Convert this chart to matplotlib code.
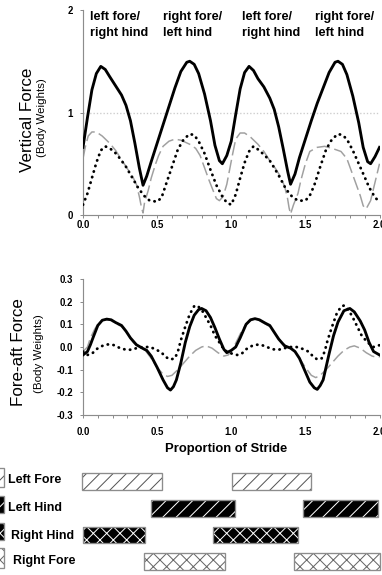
import matplotlib
matplotlib.use("Agg")
import matplotlib.pyplot as plt
from matplotlib.patches import Rectangle

# ---------------------------------------------------------------
# Vertical force (body weights) over two strides
# ---------------------------------------------------------------
vert_total_x = [0.00, 0.03, 0.06, 0.09, 0.12, 0.15, 0.18, 0.22, 0.26, 0.29,
                0.32, 0.35, 0.38, 0.405, 0.43, 0.46, 0.50, 0.54, 0.58, 0.62,
                0.66, 0.70, 0.72, 0.75, 0.78, 0.82, 0.86, 0.89, 0.92, 0.94,
                0.97, 1.00, 1.03, 1.06, 1.09, 1.12, 1.15, 1.18, 1.22, 1.26,
                1.29, 1.32, 1.35, 1.38, 1.40, 1.43, 1.46, 1.50, 1.54, 1.58,
                1.62, 1.66, 1.70, 1.72, 1.75, 1.78, 1.82, 1.86, 1.89, 1.92,
                1.94, 1.97, 2.00]
vert_total_y = [0.66, 0.95, 1.22, 1.38, 1.45, 1.42, 1.35, 1.26, 1.17, 1.07,
                0.92, 0.70, 0.46, 0.29, 0.38, 0.52, 0.70, 0.88, 1.06, 1.24,
                1.40, 1.49, 1.50, 1.47, 1.38, 1.18, 0.92, 0.68, 0.53, 0.50,
                0.58, 0.72, 0.98, 1.23, 1.39, 1.45, 1.41, 1.33, 1.25, 1.14,
                1.03, 0.86, 0.65, 0.43, 0.30, 0.40, 0.56, 0.74, 0.92, 1.09,
                1.24, 1.39, 1.49, 1.50, 1.47, 1.37, 1.16, 0.90, 0.66, 0.52,
                0.50, 0.57, 0.66]

vert_dot_x = [0.00, 0.03, 0.06, 0.09, 0.12, 0.15, 0.18, 0.21, 0.25, 0.29,
              0.33, 0.37, 0.41, 0.45, 0.50, 0.53, 0.56, 0.60, 0.64, 0.68,
              0.72, 0.75, 0.78, 0.82, 0.86, 0.90, 0.94, 0.97, 1.00, 1.03,
              1.06, 1.09, 1.12, 1.15, 1.18, 1.22, 1.26, 1.29, 1.33, 1.37,
              1.41, 1.45, 1.50, 1.53, 1.56, 1.60, 1.64, 1.68, 1.72, 1.75,
              1.78, 1.82, 1.86, 1.90, 1.93, 1.97, 2.00]
vert_dot_y = [0.10, 0.21, 0.36, 0.51, 0.63, 0.67, 0.65, 0.62, 0.55, 0.47,
              0.37, 0.27, 0.19, 0.14, 0.13, 0.17, 0.30, 0.47, 0.64, 0.74,
              0.79, 0.78, 0.72, 0.60, 0.44, 0.29, 0.18, 0.12, 0.10, 0.20,
              0.36, 0.51, 0.62, 0.67, 0.64, 0.59, 0.53, 0.46, 0.36, 0.25,
              0.18, 0.14, 0.14, 0.19, 0.29, 0.47, 0.64, 0.74, 0.79, 0.78,
              0.74, 0.63, 0.50, 0.37, 0.27, 0.17, 0.13]

vert_dash_x = [0.000, 0.015, 0.035, 0.06, 0.09, 0.13, 0.18, 0.22, 0.26, 0.30,
               0.33, 0.36, 0.38, 0.395, 0.405, 0.415, 0.44, 0.46, 0.49, 0.51,
               0.54, 0.58, 0.62, 0.66, 0.72, 0.76, 0.79, 0.82, 0.85, 0.88,
               0.90, 0.92, 0.945, 0.97, 0.99, 1.01, 1.03, 1.06, 1.09, 1.13,
               1.18, 1.22, 1.26, 1.30, 1.33, 1.36, 1.38, 1.39, 1.40, 1.42,
               1.45, 1.47, 1.50, 1.53, 1.58, 1.63, 1.68, 1.74, 1.78, 1.81,
               1.84, 1.87, 1.89, 1.91, 1.94, 1.97, 2.00]
vert_dash_y = [0.55, 0.66, 0.77, 0.81, 0.81, 0.77, 0.70, 0.63, 0.54, 0.45,
               0.39, 0.30, 0.18, 0.07, 0.02, 0.12, 0.24, 0.36, 0.50, 0.58,
               0.67, 0.72, 0.74, 0.73, 0.69, 0.65, 0.58, 0.46, 0.34, 0.23,
               0.16, 0.14, 0.18, 0.30, 0.45, 0.60, 0.74, 0.80, 0.80, 0.76,
               0.69, 0.62, 0.53, 0.45, 0.38, 0.28, 0.16, 0.07, 0.01, 0.10,
               0.21, 0.34, 0.50, 0.62, 0.66, 0.67, 0.65, 0.62, 0.55, 0.43,
               0.31, 0.19, 0.09, 0.06, 0.14, 0.32, 0.50]

# ---------------------------------------------------------------
# Fore-aft force (body weights)
# ---------------------------------------------------------------
fa_total_x = [0.00, 0.03, 0.05, 0.07, 0.10, 0.13, 0.16, 0.19, 0.22, 0.26,
              0.29, 0.32, 0.36, 0.40, 0.43, 0.46, 0.50, 0.54, 0.57, 0.59,
              0.61, 0.63, 0.66, 0.69, 0.72, 0.75, 0.78, 0.80, 0.83, 0.86,
              0.89, 0.92, 0.95, 0.97, 1.00, 1.03, 1.06, 1.10, 1.13, 1.16,
              1.19, 1.23, 1.26, 1.29, 1.32, 1.36, 1.40, 1.43, 1.46, 1.50,
              1.53, 1.56, 1.58, 1.60, 1.62, 1.66, 1.69, 1.72, 1.76, 1.80,
              1.83, 1.87, 1.90, 1.93, 1.96, 2.00]
fa_total_y = [-0.035, -0.02, 0.01, 0.045, 0.095, 0.118, 0.123, 0.12, 0.108, 0.095,
              0.07, 0.04, 0.01, -0.005, -0.015, -0.04, -0.09, -0.145, -0.18, -0.19,
              -0.175, -0.145, -0.07, 0.02, 0.09, 0.14, 0.165, 0.17, 0.16, 0.13,
              0.085, 0.035, -0.01, -0.025, -0.015, 0.0, 0.04, 0.10, 0.12, 0.125,
              0.12, 0.105, 0.095, 0.065, 0.035, 0.005, -0.005, -0.02, -0.05, -0.11,
              -0.155, -0.18, -0.187, -0.17, -0.145, -0.03, 0.05, 0.11, 0.16, 0.17,
              0.155, 0.115, 0.075, 0.02, -0.02, -0.035]

fa_dot_x = [0.00, 0.03, 0.06, 0.09, 0.12, 0.15, 0.18, 0.21, 0.25, 0.29,
            0.33, 0.37, 0.41, 0.45, 0.49, 0.53, 0.56, 0.59, 0.62, 0.64,
            0.66, 0.69, 0.72, 0.75, 0.77, 0.80, 0.83, 0.86, 0.89, 0.92,
            0.95, 0.98, 1.01, 1.04, 1.07, 1.10, 1.14, 1.17, 1.20, 1.24,
            1.28, 1.32, 1.36, 1.40, 1.44, 1.48, 1.52, 1.55, 1.58, 1.61,
            1.63, 1.65, 1.68, 1.71, 1.74, 1.76, 1.79, 1.82, 1.85, 1.88,
            1.92, 1.96, 2.00]
fa_dot_y = [-0.02, -0.035, -0.03, -0.01, 0.002, 0.01, 0.012, 0.008, -0.005, -0.012,
            -0.012, -0.003, 0.0, 0.0, -0.01, -0.025, -0.045, -0.055, -0.05, -0.02,
            0.03, 0.09, 0.145, 0.18, 0.183, 0.165, 0.13, 0.095, 0.05, 0.02,
            -0.01, -0.025, -0.03, -0.035, -0.03, -0.01, 0.005, 0.01, 0.01, 0.0,
            -0.01, -0.012, -0.005, 0.0, 0.0, -0.008, -0.02, -0.04, -0.055, -0.05,
            -0.02, 0.03, 0.09, 0.145, 0.178, 0.183, 0.165, 0.13, 0.09, 0.05,
            0.02, 0.0, 0.008]

fa_dash_x = [0.00, 0.03, 0.05, 0.08, 0.11, 0.14, 0.18, 0.22, 0.26, 0.30,
             0.34, 0.38, 0.42, 0.46, 0.50, 0.54, 0.57, 0.60, 0.64, 0.68,
             0.72, 0.76, 0.80, 0.83, 0.87, 0.91, 0.95, 0.98, 1.01, 1.04,
             1.07, 1.10, 1.14, 1.18, 1.22, 1.26, 1.30, 1.34, 1.38, 1.42,
             1.46, 1.50, 1.54, 1.57, 1.60, 1.64, 1.68, 1.72, 1.76, 1.80,
             1.83, 1.87, 1.91, 1.95, 1.98, 2.00]
fa_dash_y = [-0.02, 0.0, 0.04, 0.08, 0.11, 0.12, 0.12, 0.105, 0.09, 0.06,
             0.02, 0.0, -0.015, -0.05, -0.09, -0.12, -0.13, -0.125, -0.10, -0.07,
             -0.04, -0.015, 0.0, 0.005, -0.005, -0.025, -0.04, -0.035, -0.01, 0.03,
             0.07, 0.10, 0.12, 0.12, 0.105, 0.09, 0.055, 0.02, 0.0, -0.015,
             -0.05, -0.09, -0.125, -0.135, -0.125, -0.10, -0.07, -0.04, -0.015, 0.0,
             0.005, -0.005, -0.025, -0.04, -0.045, -0.045]

# ---------------------------------------------------------------
# Footfall (stance) periods, proportion of stride
# ---------------------------------------------------------------
limb_names = ["Left Fore", "Left Hind", "Right Hind", "Right Fore"]
stance_left_fore = [(-0.01, 0.53), (1.005, 1.535)]
stance_left_hind = [(0.46, 1.025), (1.485, 1.99)]
stance_right_hind = [(0.0, 0.42), (0.88, 1.45)]
stance_right_fore = [(0.41, 0.955), (1.42, 2.0)]

phase_labels = ["left fore/\nright hind", "right fore/\nleft hind",
                "left fore/\nright hind", "right fore/\nleft hind"]

W, H = 382, 575
DPI = 120

plt.rcParams.update({
    "font.family": ["Liberation Sans", "DejaVu Sans"],
    "axes.unicode_minus": False,
    "hatch.linewidth": 0.6,
})

fig = plt.figure(figsize=(W / DPI, H / DPI), dpi=DPI)
fig.patch.set_facecolor("white")


def fx(px):
    return px / W


def fy(py):
    return 1 - py / H


SPINE = "#8c8c8c"
DASH = "#a0a0a0"

x_left = 83
x_right = 379.5
ax_w = fx(x_right - x_left)

ax1 = fig.add_axes([fx(x_left), fy(215), ax_w, (215 - 10) / H])
ax2 = fig.add_axes([fx(x_left), fy(415), ax_w, (415 - 279) / H])


def style(ax, xpad):
    for s in ("top", "right"):
        ax.spines[s].set_visible(False)
    for s in ("left", "bottom"):
        ax.spines[s].set_color(SPINE)
        ax.spines[s].set_linewidth(0.7)
    ax.set_xlim(0, 2)
    ax.set_xticks([0.0, 0.5, 1.0, 1.5, 2.0])
    ax.set_xticks([i / 10 for i in range(21)], minor=True)
    ax.set_xticklabels(["0.0", "0.5", "1.0", "1.5", "2.0"])
    ax.tick_params(axis="x", which="both", direction="out", length=2,
                   width=0.6, color=SPINE, labelsize=5.8, pad=xpad)
    ax.tick_params(axis="y", direction="out", length=2, width=0.6,
                   color=SPINE, labelsize=5.8, pad=4)
    for lbl in ax.get_xticklabels() + ax.get_yticklabels():
        lbl.set_fontweight("bold")
    ax.patch.set_alpha(0)


# Top panel: vertical force
ax1.axhline(1.0, color="#cccccc", lw=0.8, ls=(0, (1, 1.5)), zorder=1)
ax1.plot(vert_dash_x, vert_dash_y, color=DASH, lw=0.9, ls=(0, (9, 3)), zorder=2)
ax1.plot(vert_dot_x, vert_dot_y, color="black", lw=1.7,
         ls=(0, (0.1, 1.95)), dash_capstyle="round", zorder=3)
ax1.plot(vert_total_x, vert_total_y, color="black", lw=1.7, zorder=4)
ax1.set_ylim(0, 2)
ax1.set_yticks([0, 1, 2])
ax1.set_yticklabels(["0", "1", "2"])
style(ax1, 1.0)

# Bottom panel: fore-aft force
ax2.plot(fa_dash_x, fa_dash_y, color=DASH, lw=0.9, ls=(0, (9, 3)), zorder=2)
ax2.plot(fa_dot_x, fa_dot_y, color="black", lw=1.7,
         ls=(0, (0.1, 1.95)), dash_capstyle="round", zorder=3)
ax2.plot(fa_total_x, fa_total_y, color="black", lw=1.7, zorder=4)
ax2.set_ylim(-0.3, 0.3)
yt = [-0.3, -0.2, -0.1, 0.0, 0.1, 0.2, 0.3]
ax2.set_yticks(yt)
ax2.set_yticklabels([f"{v:.1f}" for v in yt])
style(ax2, 5.0)

# Phase annotations
for lbl, px in zip(phase_labels, [90, 163, 242, 315]):
    fig.text(fx(px), fy(11), lbl, ha="left", va="top", fontsize=7.6,
             fontweight="bold", linespacing=1.45)

# Axis titles
fig.text(fx(27), fy(120), "Vertical Force", rotation=90, ha="center",
         va="center", fontsize=10.2)
fig.text(fx(42), fy(118), "(Body Weights)", rotation=90, ha="center",
         va="center", fontsize=6.9)
fig.text(fx(19), fy(352), "Fore-aft Force", rotation=90, ha="center",
         va="center", fontsize=10.2)
fig.text(fx(39), fy(354), "(Body Weights)", rotation=90, ha="center",
         va="center", fontsize=6.9)
fig.text(fx(226), fy(449), "Proportion of Stride", ha="center", va="center",
         fontsize=7.8, fontweight="bold")

# Footfall bars
row_h = 26.7
top_py = 481.7 - row_h / 2
axg = fig.add_axes([fx(x_left), fy(top_py + 4 * row_h), ax_w, 4 * row_h / H])
axg.set_xlim(0, 2)
axg.set_ylim(3.5, -0.5)
axg.axis("off")

bar_styles = [
    dict(face="white", hatch_col="#555555", hatch="///"),
    dict(face="black", hatch_col="white", hatch="///"),
    dict(face="black", hatch_col="white", hatch="xxx"),
    dict(face="white", hatch_col="#666666", hatch="xxx"),
]
stances = [stance_left_fore, stance_left_hind, stance_right_hind, stance_right_fore]
bar_h = 16.7 / row_h

for row, (segs, st) in enumerate(zip(stances, bar_styles)):
    for start, end in segs:
        axg.barh(row, end - start, left=start, height=bar_h, color=st["face"],
                 edgecolor=st["hatch_col"], hatch=st["hatch"], lw=0,
                 clip_on=False)
        axg.barh(row, end - start, left=start, height=bar_h, fill=False,
                 edgecolor=SPINE, lw=0.8, clip_on=False)

# Limb labels with small key boxes (cut at the left edge)
label_x = [8, 8, 11, 12.7]
label_y = [480, 508, 536, 560.7]
key_y = [(468, 487), (496, 513), (523, 540), (548, 568)]
for name, lx, ly, (k0, k1), st in zip(limb_names, label_x, label_y, key_y, bar_styles):
    fig.text(fx(lx), fy(ly), name, ha="left", va="center", fontsize=7.4,
             fontweight="bold")
    fig.add_artist(Rectangle((fx(-8), fy(k1)), fx(11.5), (k1 - k0) / H,
                             transform=fig.transFigure, facecolor=st["face"],
                             edgecolor=st["hatch_col"], hatch=st["hatch"], lw=0))
    fig.add_artist(Rectangle((fx(-8), fy(k1)), fx(11.5), (k1 - k0) / H,
                             transform=fig.transFigure, fill=False,
                             edgecolor=SPINE, lw=0.8))

fig.savefig("out.png", dpi=DPI)
